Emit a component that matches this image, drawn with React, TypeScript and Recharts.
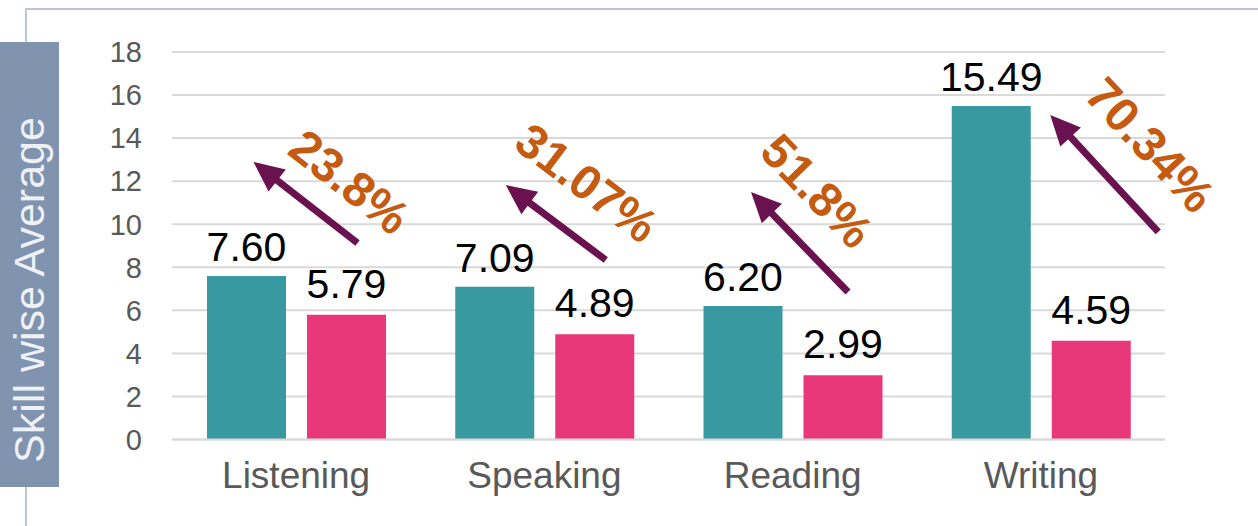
import React from 'react';
import { BarChart, Bar, XAxis, YAxis, CartesianGrid, LabelList } from 'recharts';

const categories = ['Listening', 'Speaking', 'Reading', 'Writing'];
const tealValues = [7.6, 7.09, 6.2, 15.49];
const pinkValues = [5.79, 4.89, 2.99, 4.59];
const changeLabels = ['23.8%', '31.07%', '51.8%', '70.34%'];
const yTicks = [0, 2, 4, 6, 8, 10, 12, 14, 16, 18];

// arrow annotation levels, in value units
const arrowTailValue = [9.13, 8.34, 6.85, 9.64];
const arrowHeadValue = [12.89, 11.82, 11.5, 15.07];
const changeLabelValue = [11.96, 11.91, 11.54, 13.68];

// annotation layout (pixel offsets from the pink bar centre, angles)
const arrowTailDx = [11, 11, 5, 67];
const arrowHeadDx = [-93, -89, -92, -41];
const labelDx = [3, -8, -26, 59];
const labelAngle = [38, 37, 46, 47];

const data = categories.map((c, i) => ({
  category: c,
  teal: tealValues[i],
  pink: pinkValues[i],
  change: changeLabels[i],
}));

const FONT = '"Liberation Sans", Arial, Helvetica, sans-serif';
const TEAL = '#3999a1';
const PINK = '#e8387a';
const ARROW = '#6a1150';
const ORANGE = '#c55a11';

const ArrowAnnotation = (props: any) => {
  const vb = props.viewBox && props.viewBox.width !== undefined ? props.viewBox : props;
  const x = Number(vb.x);
  const y = Number(vb.y);
  const width = Number(vb.width);
  const height = Number(vb.height);
  const i = props.index as number;
  if (!isFinite(x) || !isFinite(y) || i === undefined) return null;
  const baseY = y + height;
  const ppu = height / pinkValues[i];
  const cx = x + width / 2;
  const tx = cx + arrowTailDx[i];
  const ty = baseY - arrowTailValue[i] * ppu;
  const hx = cx + arrowHeadDx[i];
  const hy = baseY - arrowHeadValue[i] * ppu;
  const dx = hx - tx;
  const dy = hy - ty;
  const len = Math.sqrt(dx * dx + dy * dy);
  const ux = dx / len;
  const uy = dy / len;
  const nx = -uy;
  const ny = ux;
  const headLen = 30;
  const headHalf = 14;
  const bx = hx - ux * headLen;
  const by = hy - uy * headLen;
  const lx = cx + labelDx[i];
  const ly = baseY - changeLabelValue[i] * ppu;
  return (
    <g>
      <line x1={tx} y1={ty} x2={bx + ux * 4} y2={by + uy * 4} stroke={ARROW} strokeWidth={7} />
      <polygon
        points={`${hx},${hy} ${bx + nx * headHalf},${by + ny * headHalf} ${bx - nx * headHalf},${by - ny * headHalf}`}
        fill={ARROW}
      />
      <text
        x={lx}
        y={ly}
        transform={`rotate(${labelAngle[i]} ${lx} ${ly})`}
        textAnchor="middle"
        dominantBaseline="central"
        fontFamily={FONT}
        fontWeight="bold"
        fontSize={48}
        fill={ORANGE}
      >
        {changeLabels[i]}
      </text>
    </g>
  );
};

export default function App() {
  return (
    <div
      style={{
        position: 'absolute',
        left: 0,
        top: 0,
        width: 1258,
        height: 526,
        background: '#ffffff',
        overflow: 'hidden',
        fontFamily: FONT,
      }}
    >
      {/* frame lines */}
      <div style={{ position: 'absolute', left: 25, top: 8, width: 1233, height: 2, background: '#b9c4d6' }} />
      <div style={{ position: 'absolute', left: 25, top: 8, width: 2, height: 518, background: '#b9c4d6' }} />
      <div style={{ position: 'absolute', left: 0, top: 0 }}>
        <BarChart
          width={1258}
          height={526}
          data={data}
          margin={{ top: 52, right: 93, bottom: 0, left: 0 }}
          barCategoryGap={35}
          barGap={21}
        >
          <CartesianGrid vertical={false} stroke="#d9d9d9" strokeWidth={2} />
          <XAxis
            dataKey="category"
            tickLine={false}
            axisLine={{ stroke: '#d9d9d9', strokeWidth: 2 }}
            height={86.5}
            tickMargin={16}
            tick={{ fontSize: 37, fill: '#595959', fontFamily: FONT }}
          />
          <YAxis
            domain={[0, 18]}
            ticks={yTicks}
            axisLine={false}
            tickLine={false}
            width={172}
            tickMargin={24}
            interval={0}
            tick={{ fontSize: 29, fill: '#595959', fontFamily: FONT }}
          />
          <Bar dataKey="teal" fill={TEAL} isAnimationActive={false}>
            <LabelList
              dataKey="teal"
              position="top"
              offset={15}
              fill="#000000"
              fontSize={41}
              fontFamily={FONT}
              formatter={(v: any) => Number(v).toFixed(2)}
            />
          </Bar>
          <Bar dataKey="pink" fill={PINK} isAnimationActive={false}>
            <LabelList
              dataKey="pink"
              position="top"
              offset={17}
              fill="#000000"
              fontSize={41}
              fontFamily={FONT}
              formatter={(v: any) => Number(v).toFixed(2)}
            />
            <LabelList dataKey="change" content={ArrowAnnotation} />
          </Bar>
        </BarChart>
      </div>
      {/* y-axis title box */}
      <div style={{ position: 'absolute', left: 0, top: 42, width: 59, height: 445, background: '#8094b0' }} />
      <svg style={{ position: 'absolute', left: 0, top: 0 }} width={60} height={526}>
        <text
          transform="translate(44 290) rotate(-90)"
          textAnchor="middle"
          fontFamily={FONT}
          fontSize={43}
          fill="#eef1f5"
        >
          Skill wise Average
        </text>
      </svg>
    </div>
  );
}
